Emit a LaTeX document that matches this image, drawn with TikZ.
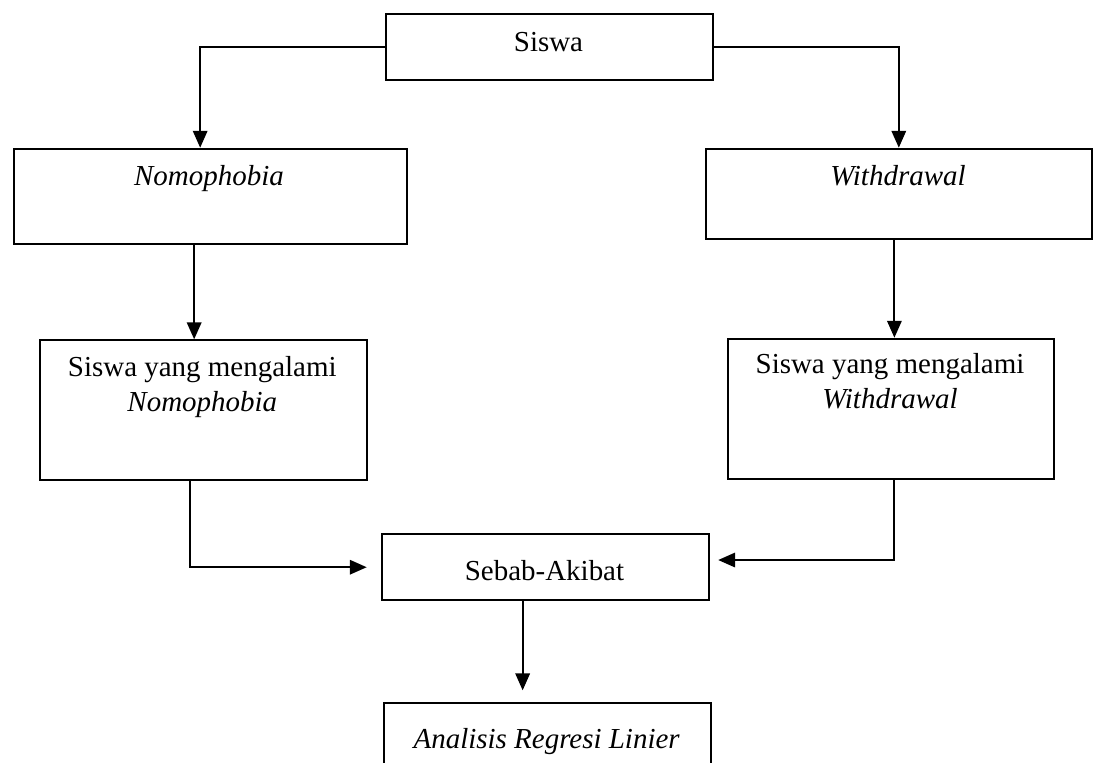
\documentclass[tikz,border=0pt]{standalone}
\usepackage{fontspec}
\setmainfont{Liberation Serif}
\usetikzlibrary{arrows.meta}

\begin{document}
\begin{tikzpicture}[x=0.025cm,y=-0.025cm,line width=1.3pt,
        box/.style={draw,inner sep=0pt,anchor=north west},
        lbl/.style={anchor=base,inner sep=0pt,align=center,font=\fontsize{20.6}{25}\selectfont},
        arr/.style={-{Triangle[length=0.42cm,width=0.36cm]}}]
    \clip (0,0) rectangle (1093,763);
    % boxes
    \node[box,minimum width=8.167cm,minimum height=1.642cm] (siswa) at (385,13.3) {};
    \node[box,minimum width=9.825cm,minimum height=2.39cm] (nomo) at (12.7,147.7) {};
    \node[box,minimum width=9.642cm,minimum height=2.265cm] (withd) at (705,147.7) {};
    \node[box,minimum width=8.167cm,minimum height=3.5cm] (nomosis) at (39,339.3) {};
    \node[box,minimum width=8.165cm,minimum height=3.5cm] (withsis) at (726.7,337.7) {};
    \node[box,minimum width=8.19cm,minimum height=1.65cm] (sebab) at (380.7,533.3) {};
    \node[box,minimum width=8.167cm,minimum height=2.5cm] (anal) at (383.3,702.3) {};
    % texts
    \node[lbl] (siswatxt) at (548.5,51.7) {Siswa};
    \node[lbl] (nomotxt) at (209,185) {\textit{Nomophobia}};
    \node[lbl] (withdtxt) at (898,185) {\textit{Withdrawal}};
    \node[lbl] (nomosistxt) at (202.3,411.7) {Siswa yang mengalami\\\textit{Nomophobia}};
    \node[lbl] (withsistxt) at (890,408.3) {Siswa yang mengalami\\\textit{Withdrawal}};
    \node[lbl] (sebabtxt) at (544.5,580) {Sebab-Akibat};
    \node[lbl] (analtxt) at (546.7,748.3) {\textit{Analisis Regresi Linier}};
    % arrows
    \draw[arr] (siswa.west) -| ([xshift=-0.25cm]nomo.north);
    \draw[arr] (siswa.east) -| (withd.north);
    \draw[arr] ([xshift=-0.4cm]nomo.south) -- ([xshift=-0.4cm]nomo.south |- nomosis.north);
    \draw[arr] ([xshift=-0.11cm]withd.south) -- ([xshift=-0.11cm]withd.south |- withsis.north);
    \draw[arr,shorten >=0.35cm] ([xshift=-0.325cm]nomosis.south) |- (sebab.west);
    \draw[arr,shorten >=0.2cm] ([xshift=0.08cm]withsis.south) |- ([yshift=0.18cm]sebab.east);
    \draw[arr,shorten >=0.3cm] ([xshift=-0.57cm]sebab.south) -- ([xshift=-0.57cm]sebab.south |- anal.north);
\end{tikzpicture}
\end{document}
